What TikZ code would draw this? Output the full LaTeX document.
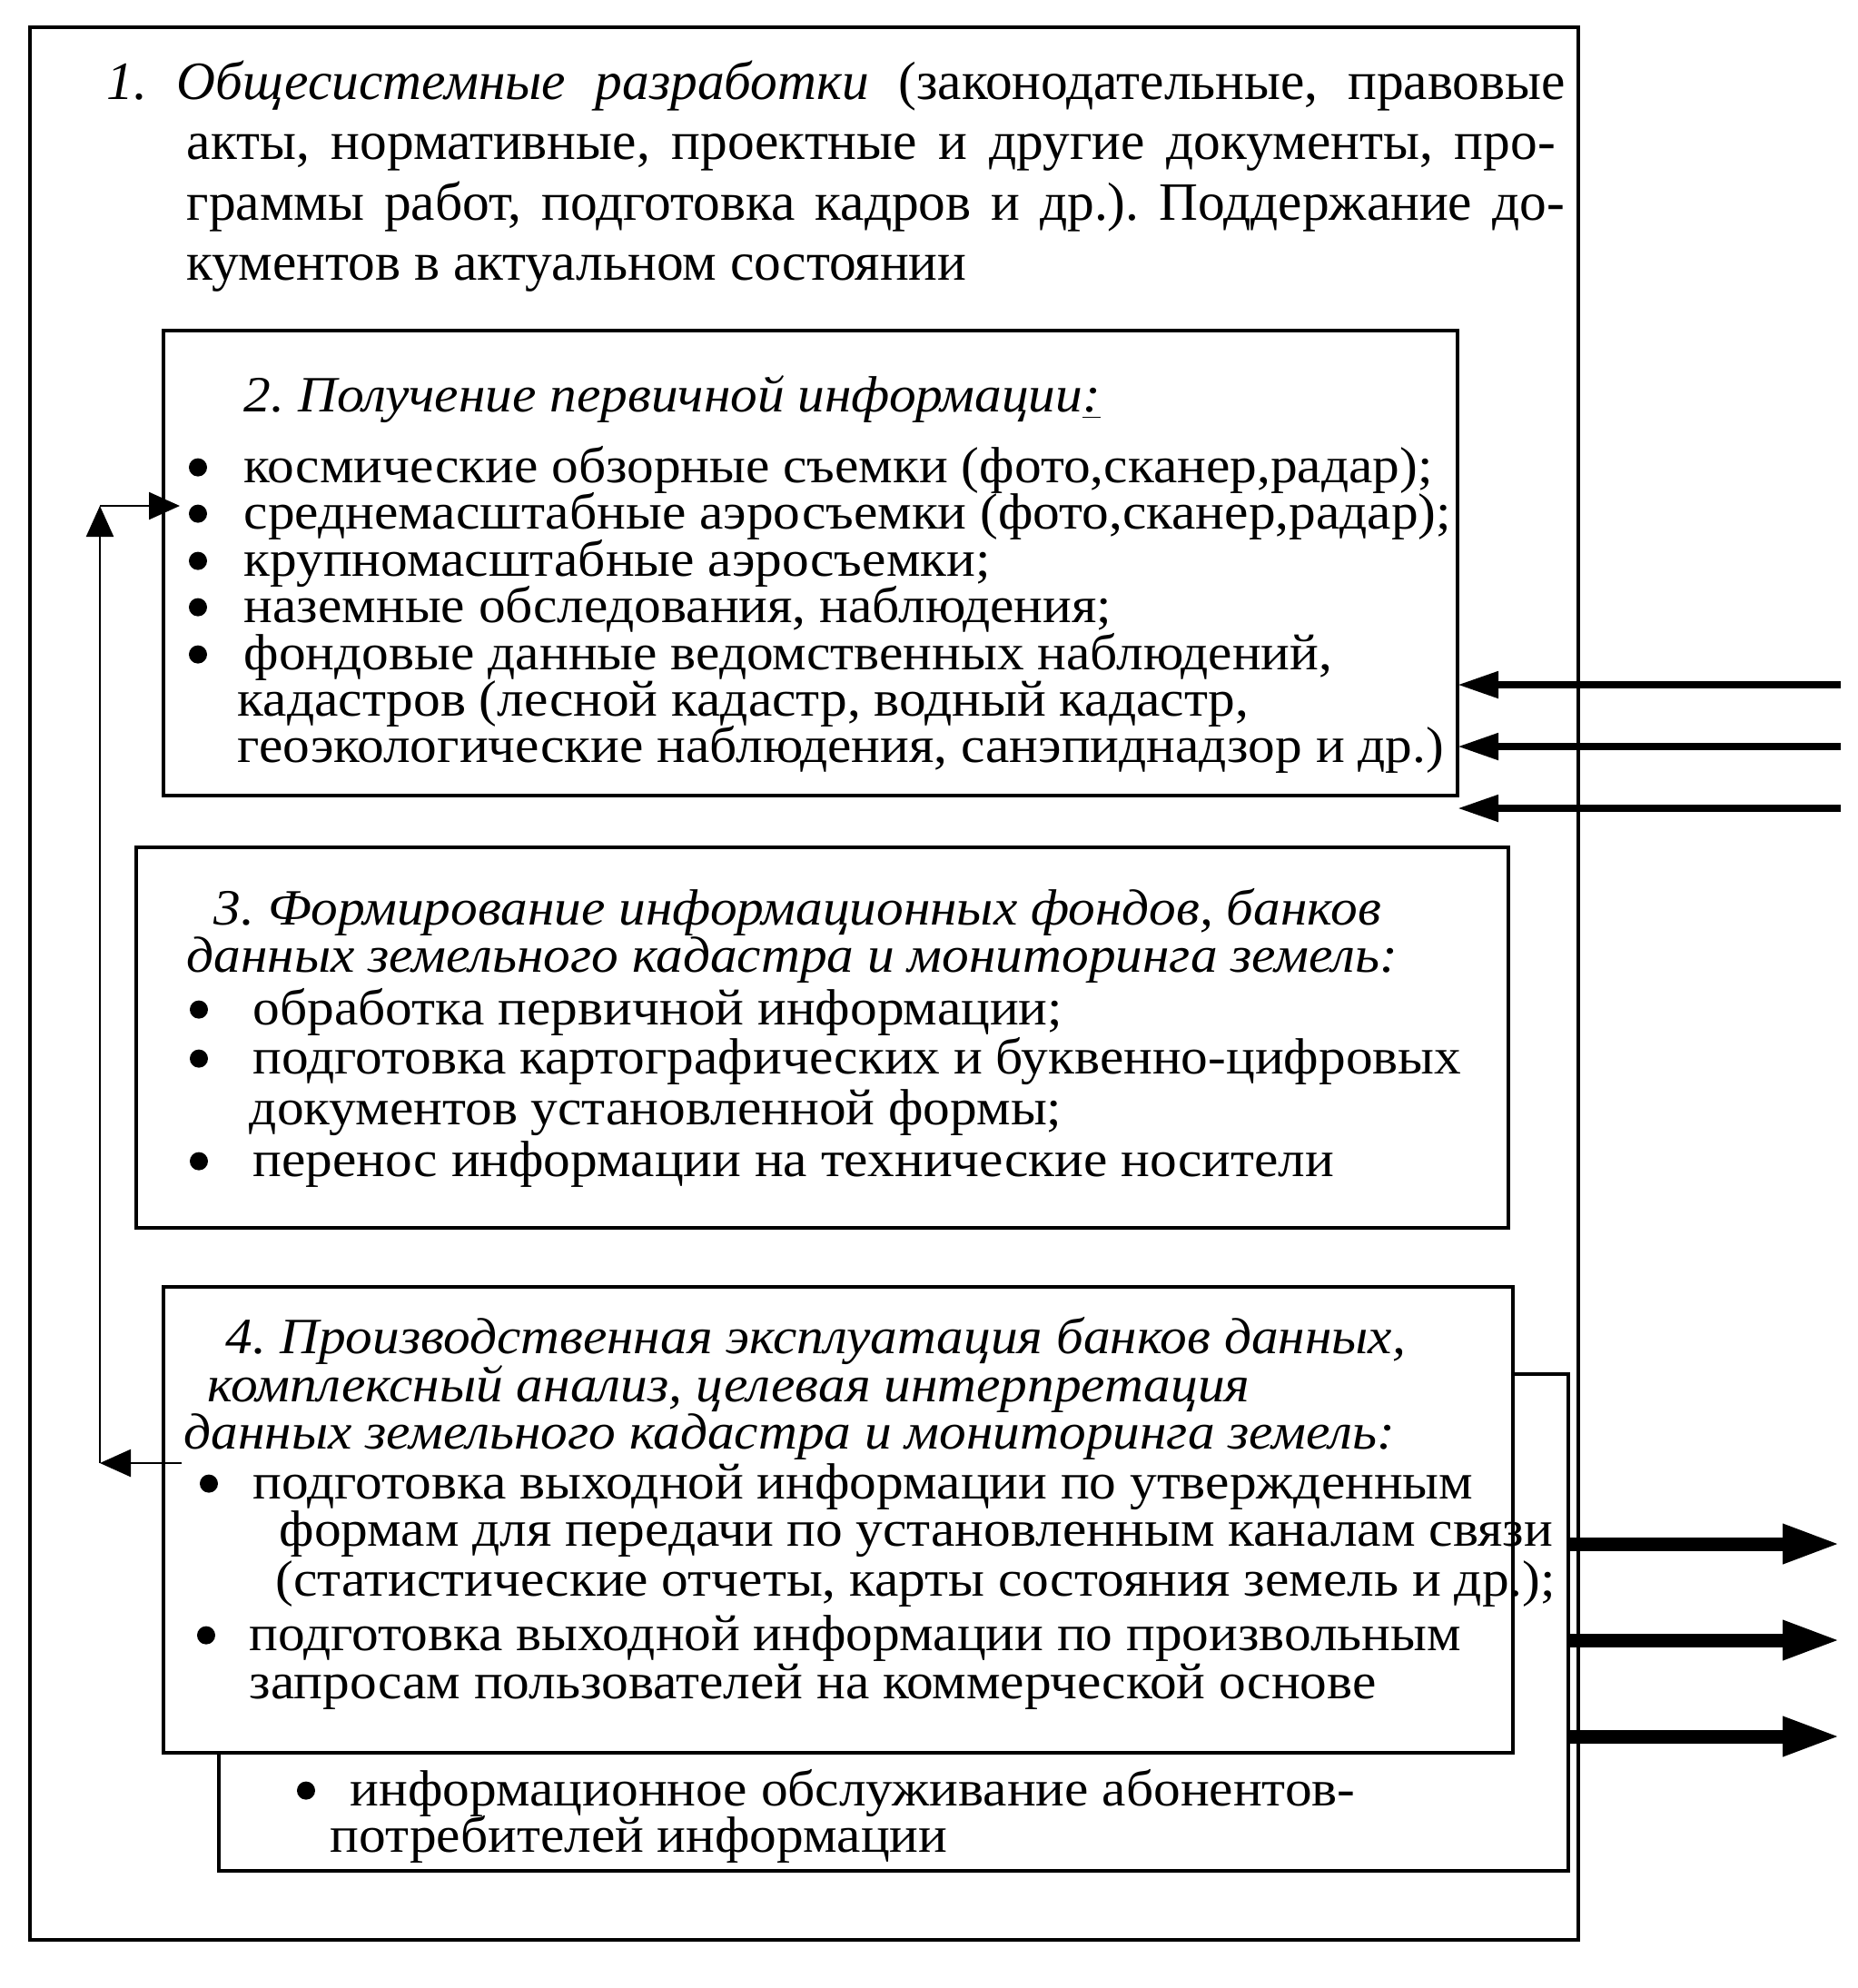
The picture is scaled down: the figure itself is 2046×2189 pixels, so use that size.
\documentclass[tikz,border=0pt]{standalone}
\usepackage{fontspec}
\setmainfont{Liberation Serif}
\usetikzlibrary{fit,arrows.meta}
\newcommand\sxline[1]{\scalebox{1.06}[1]{#1}}
\begin{document}
\frenchspacing
\begin{tikzpicture}[x=0.25pt,y=-0.25pt,
  box/.style={draw, line width=0.9pt, fill=white, inner sep=0pt, outer sep=0pt},
  t/.style={anchor=base west, inner sep=0pt, font=\fontsize{14pt}{16pt}\selectfont},
  tb/.style={anchor=base west, inner sep=0pt, font=\fontsize{14.85pt}{16pt}\selectfont},
  bul/.style={circle, fill=black, draw=none, inner sep=0pt, minimum size=5pt, yshift=4.1pt},
  inarr/.style={line width=2pt, -{Triangle[length=11.25pt,width=7pt]}},
  outarr/.style={line width=3.75pt, -{Triangle[length=16pt,width=10pt]}},
  fb/.style={line width=0.6pt, -{Triangle[length=8.5pt,width=7.5pt]}}
]
\useasboundingbox (0,0) rectangle (2046,2189);
% boxes
\node[box, fill=none, fit={(33,30) (1738,2136)}] (b1) {};
\node[box, fit={(180,364) (1605,876)}] (b2) {};
\node[box, fit={(150,933) (1661,1352)}] (b3) {};
\node[box, fit={(241,1513) (1727,2060)}] (b5) {};
\node[box, fit={(180,1417) (1666,1930)}] (b4) {};
% box 1 text
\node[tb] (t1a) at (117,109) {\makebox[401.5pt][s]{\textit{1.}\hspace{8pt}\textit{Общесистемные разработки} (законодательные, правовые}};
\node[tb] (t1b) at (205,175) {\makebox[376.75pt][s]{акты, нормативные, проектные и другие документы, про-}};
\node[tb] (t1c) at (205,242) {\makebox[379.25pt][s]{граммы работ, подготовка кадров и др.). Поддержание до-}};
\node[tb] (t1d) at (205,308) {кументов в актуальном состоянии};
% box 2 text
\node[t] (t2h) at (268,453) {\sxline{\textit{2. Получение первичной информации\underline{:}}}};
\node[bul] (u2a) at (218,531) {};
\node[bul] (u2b) at (218,582) {};
\node[bul] (u2c) at (218,634) {};
\node[bul] (u2d) at (218,685) {};
\node[bul] (u2e) at (218,737) {};
\node[t] (t2a) at (268,531) {\sxline{космические обзорные съемки (фото,сканер,радар);}};
\node[t] (t2b) at (268,582) {\sxline{среднемасштабные аэросъемки (фото,сканер,радар);}};
\node[t] (t2c) at (268,634) {\sxline{крупномасштабные аэросъемки;}};
\node[t] (t2d) at (268,685) {\sxline{наземные обследования, наблюдения;}};
\node[t] (t2e) at (268,737) {\sxline{фондовые данные ведомственных наблюдений,}};
\node[t] (t2f) at (261,788) {\sxline{кадастров (лесной кадастр, водный кадастр,}};
\node[t] (t2g) at (261,839) {\sxline{геоэкологические наблюдения, санэпиднадзор и др.)}};
% box 3 text
\node[t] (t3h) at (235,1018) {\sxline{\textit{3. Формирование информационных фондов, банков}}};
\node[t] (t3i) at (205,1070) {\sxline{\textit{данных земельного кадастра и мониторинга земель:}}};
\node[bul] (u3a) at (219,1128) {};
\node[bul] (u3b) at (219,1182) {};
\node[bul] (u3c) at (219,1295) {};
\node[t] (t3a) at (278,1128) {\sxline{обработка первичной информации;}};
\node[t] (t3b) at (278,1182) {\sxline{подготовка картографических и буквенно-цифровых}};
\node[t] (t3c) at (274,1238) {\sxline{документов установленной формы;}};
\node[t] (t3d) at (278,1295) {\sxline{перенос информации на технические носители}};
% box 4 text
\node[t] (t4h) at (248,1490) {\sxline{\textit{4. Производственная эксплуатация банков данных,}}};
\node[t] (t4i) at (228,1543) {\sxline{\textit{комплексный анализ, целевая интерпретация}}};
\node[t] (t4j) at (202,1595) {\sxline{\textit{данных земельного кадастра и мониторинга земель:}}};
\node[bul] (u4a) at (230,1650) {};
\node[bul] (u4b) at (227,1817) {};
\node[t] (t4a) at (278,1650) {\sxline{подготовка выходной информации по утвержденным}};
\node[t] (t4b) at (307,1702) {\sxline{формам для передачи по установленным каналам связи}};
\node[t] (t4c) at (303,1757) {\sxline{(статистические отчеты, карты состояния земель и др.);}};
\node[t] (t4d) at (274,1817) {\sxline{подготовка выходной информации по произвольным}};
\node[t] (t4e) at (274,1870) {\sxline{запросам пользователей на коммерческой основе}};
% box 5 text
\node[bul] (u5a) at (337,1988) {};
\node[t] (t5a) at (385,1988) {\sxline{информационное обслуживание абонентов-}};
\node[t] (t5b) at (363,2039) {\sxline{потребителей информации}};
% input arrows
\coordinate (i1) at (2027,754);
\coordinate (i2) at (2027,822);
\coordinate (i3) at (2027,890);
\draw[inarr] (i1) -- (i1 -| b2.east);
\draw[inarr] (i2) -- (i2 -| b2.east);
\draw[inarr] (i3) -- (i3 -| b2.east);
% output arrows
\coordinate (o1) at (2027,1700);
\coordinate (o2) at (2027,1806);
\coordinate (o3) at (2027,1912);
\draw[outarr] (b5.east |- o1) -- (o1);
\draw[outarr] (b5.east |- o2) -- (o2);
\draw[outarr] (b5.east |- o3) -- (o3);
% feedback
\coordinate (fs) at (200,1611);
\coordinate (fb) at (110,1611);
\coordinate (ft) at (110,557);
\coordinate (fe) at (198,557);
\draw[fb] (fs) -- (fb);
\draw[fb] (fb) -- (ft);
\draw[fb] (ft) -- (fe);
\end{tikzpicture}
\end{document}
